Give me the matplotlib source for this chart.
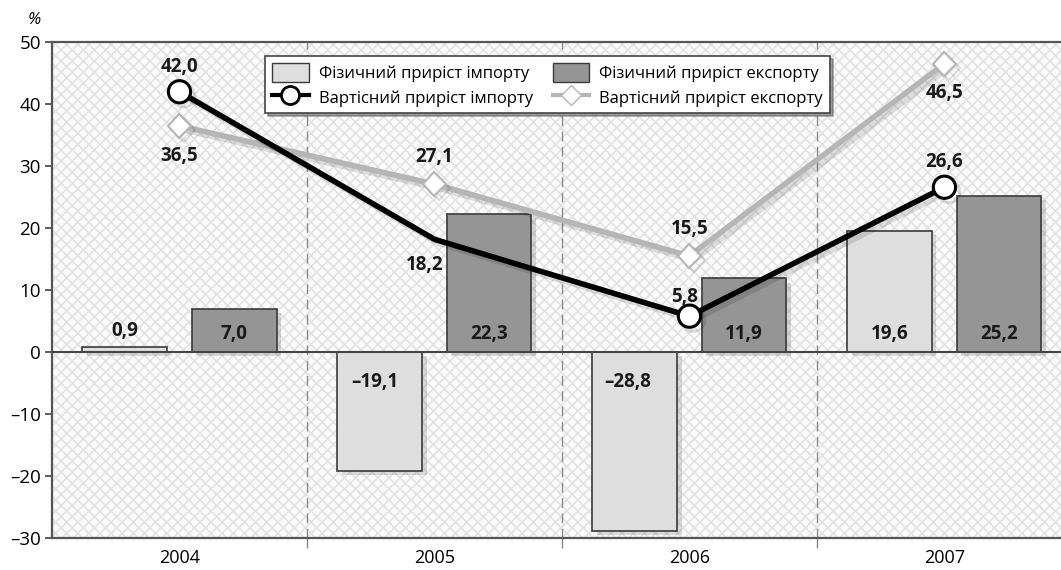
import matplotlib.pyplot as plt
import matplotlib.patheffects as pe
from matplotlib.lines import Line2D
from matplotlib.patches import Patch
import numpy as np

plt.rcParams['font.family'] = ['Open Sans', 'DejaVu Sans']
plt.rcParams['hatch.linewidth'] = 1.2

# Роки та показники, %
roky = ['2004', '2005', '2006', '2007']
fiz_import = [0.9, -19.1, -28.8, 19.6]
fiz_eksport = [7.0, 22.3, 11.9, 25.2]
vart_import = [42.0, 18.2, 5.8, 26.6]
vart_eksport = [36.5, 27.1, 15.5, 46.5]

def fmt(v):
    s = f'{abs(v):.1f}'.replace('.', ',')
    return ('\u2013' + s) if v < 0 else s

fig = plt.figure(figsize=(10.61, 5.70), dpi=100)
ax = fig.add_axes([0.049, 0.056, 0.9613, 0.870])

# фон у дрібну клітинку
ax.patch.set_facecolor('#fbfbfb')
ax.patch.set_hatch('xxx')
ax.patch.set_edgecolor('#e2e2e2')

x = np.arange(len(roky))
shirina = 0.333
zsuv = 0.214
tin = [pe.SimplePatchShadow(offset=(3, -3), alpha=0.18), pe.Normal()]

b1 = ax.bar(x - zsuv, fiz_import, width=shirina, color='#dedede', edgecolor='#3a3a3a',
            linewidth=1.2, zorder=3)
b2 = ax.bar(x + zsuv, fiz_eksport, width=shirina, color='#959595', edgecolor='#3a3a3a',
            linewidth=1.2, zorder=3)
for b in list(b1) + list(b2):
    b.set_path_effects(tin)

ax.axhline(0, color='#444444', linewidth=1.5, zorder=4)

tin_l = [pe.SimpleLineShadow(offset=(3, -3), alpha=0.12), pe.Normal()]
ax.plot(x, vart_eksport, color='#b5b5b5', linewidth=4, marker='D', markersize=12,
        markerfacecolor='white', markeredgecolor='#b5b5b5', markeredgewidth=1.5,
        zorder=5, path_effects=tin_l)
ax.plot(x, vart_import, color='black', linewidth=4, marker='o', markersize=16,
        markerfacecolor='white', markeredgecolor='black', markeredgewidth=2.2,
        markevery=[0, 2, 3], zorder=6, path_effects=tin_l)

# підписи значень
pidp = dict(fontsize=13.5, fontweight='bold', color='#1a1a1a', ha='center', va='center', zorder=8)
# фізичний приріст імпорту
ax.text(x[0] - zsuv, 3.4, fmt(fiz_import[0]), **pidp)
ax.text(x[1] - zsuv - 0.02, -4.8, fmt(fiz_import[1]), **pidp)
ax.text(x[2] - zsuv - 0.03, -4.8, fmt(fiz_import[2]), **pidp)
ax.text(x[3] - zsuv, 2.9, fmt(fiz_import[3]), **pidp)
# фізичний приріст експорту
for i in range(4):
    ax.text(x[i] + zsuv, 2.9, fmt(fiz_eksport[i]), **pidp)
# вартісний приріст імпорту
ax.text(x[0], vart_import[0] + 4.0, fmt(vart_import[0]), **pidp)
ax.text(x[1] - 0.04, vart_import[1] - 4.2, fmt(vart_import[1]), **pidp)
ax.text(x[2] - 0.02, vart_import[2] + 3.1, fmt(vart_import[2]), **pidp)
ax.text(x[3], vart_import[3] + 4.0, fmt(vart_import[3]), **pidp)
# вартісний приріст експорту
ax.text(x[0], vart_eksport[0] - 4.8, fmt(vart_eksport[0]), **pidp)
ax.text(x[1], vart_eksport[1] + 4.3, fmt(vart_eksport[1]), **pidp)
ax.text(x[2], vart_eksport[2] + 4.3, fmt(vart_eksport[2]), **pidp)
ax.text(x[3], vart_eksport[3] - 4.7, fmt(vart_eksport[3]), **pidp)

# осі
ax.set_xlim(-0.5, 3.5)
ax.set_ylim(-30, 50)
ax.set_yticks(np.arange(-30, 51, 10))
ax.set_yticklabels([fmt(v).replace(',0', '') for v in np.arange(-30, 51, 10)])
ax.set_xticks(np.arange(0.5, 3.5, 1))
ax.set_xticklabels([])
ax.set_xticks(x, minor=True)
ax.set_xticklabels(roky, minor=True)
ax.tick_params(axis='x', which='minor', length=0, labelsize=13, pad=8)
ax.tick_params(axis='x', which='major', length=7, color='#888888', width=1)
ax.tick_params(axis='y', length=5, width=1.2, color='#444444', labelsize=13.5, pad=3)
ax.grid(axis='x', which='major', color='#8a8a8a', linestyle=(0, (7, 4)), linewidth=1)
ax.set_axisbelow(True)
for s in ['left', 'top', 'bottom']:
    ax.spines[s].set_color('#555555')
    ax.spines[s].set_linewidth(1.6)
ax.spines['right'].set_visible(False)

fig.text(0.032, 0.965, '%', fontsize=12, fontstyle='italic', ha='center', va='center')

# легенда
elementy = [
    Patch(facecolor='#dedede', edgecolor='#3a3a3a', label='Фізичний приріст імпорту'),
    Line2D([], [], color='black', linewidth=3, marker='o', markersize=13,
           markerfacecolor='white', markeredgewidth=2, label='Вартісний приріст імпорту'),
    Patch(facecolor='#959595', edgecolor='#3a3a3a', label='Фізичний приріст експорту'),
    Line2D([], [], color='#b5b5b5', linewidth=3, marker='D', markersize=10,
           markerfacecolor='white', markeredgecolor='#b5b5b5', label='Вартісний приріст експорту'),
]
leg = ax.legend(handles=elementy, ncol=2, loc='upper left', bbox_to_anchor=(0.201, 0.988),
                fontsize=12, frameon=True, fancybox=False, shadow=True, framealpha=1,
                edgecolor='#444444', handlelength=2.2, handleheight=1.4,
                columnspacing=1.2, labelspacing=0.3, borderpad=0.4, handletextpad=0.6)
leg.get_frame().set_linewidth(1.2)
leg.set_zorder(10)

fig.savefig('out.png', dpi=100)
